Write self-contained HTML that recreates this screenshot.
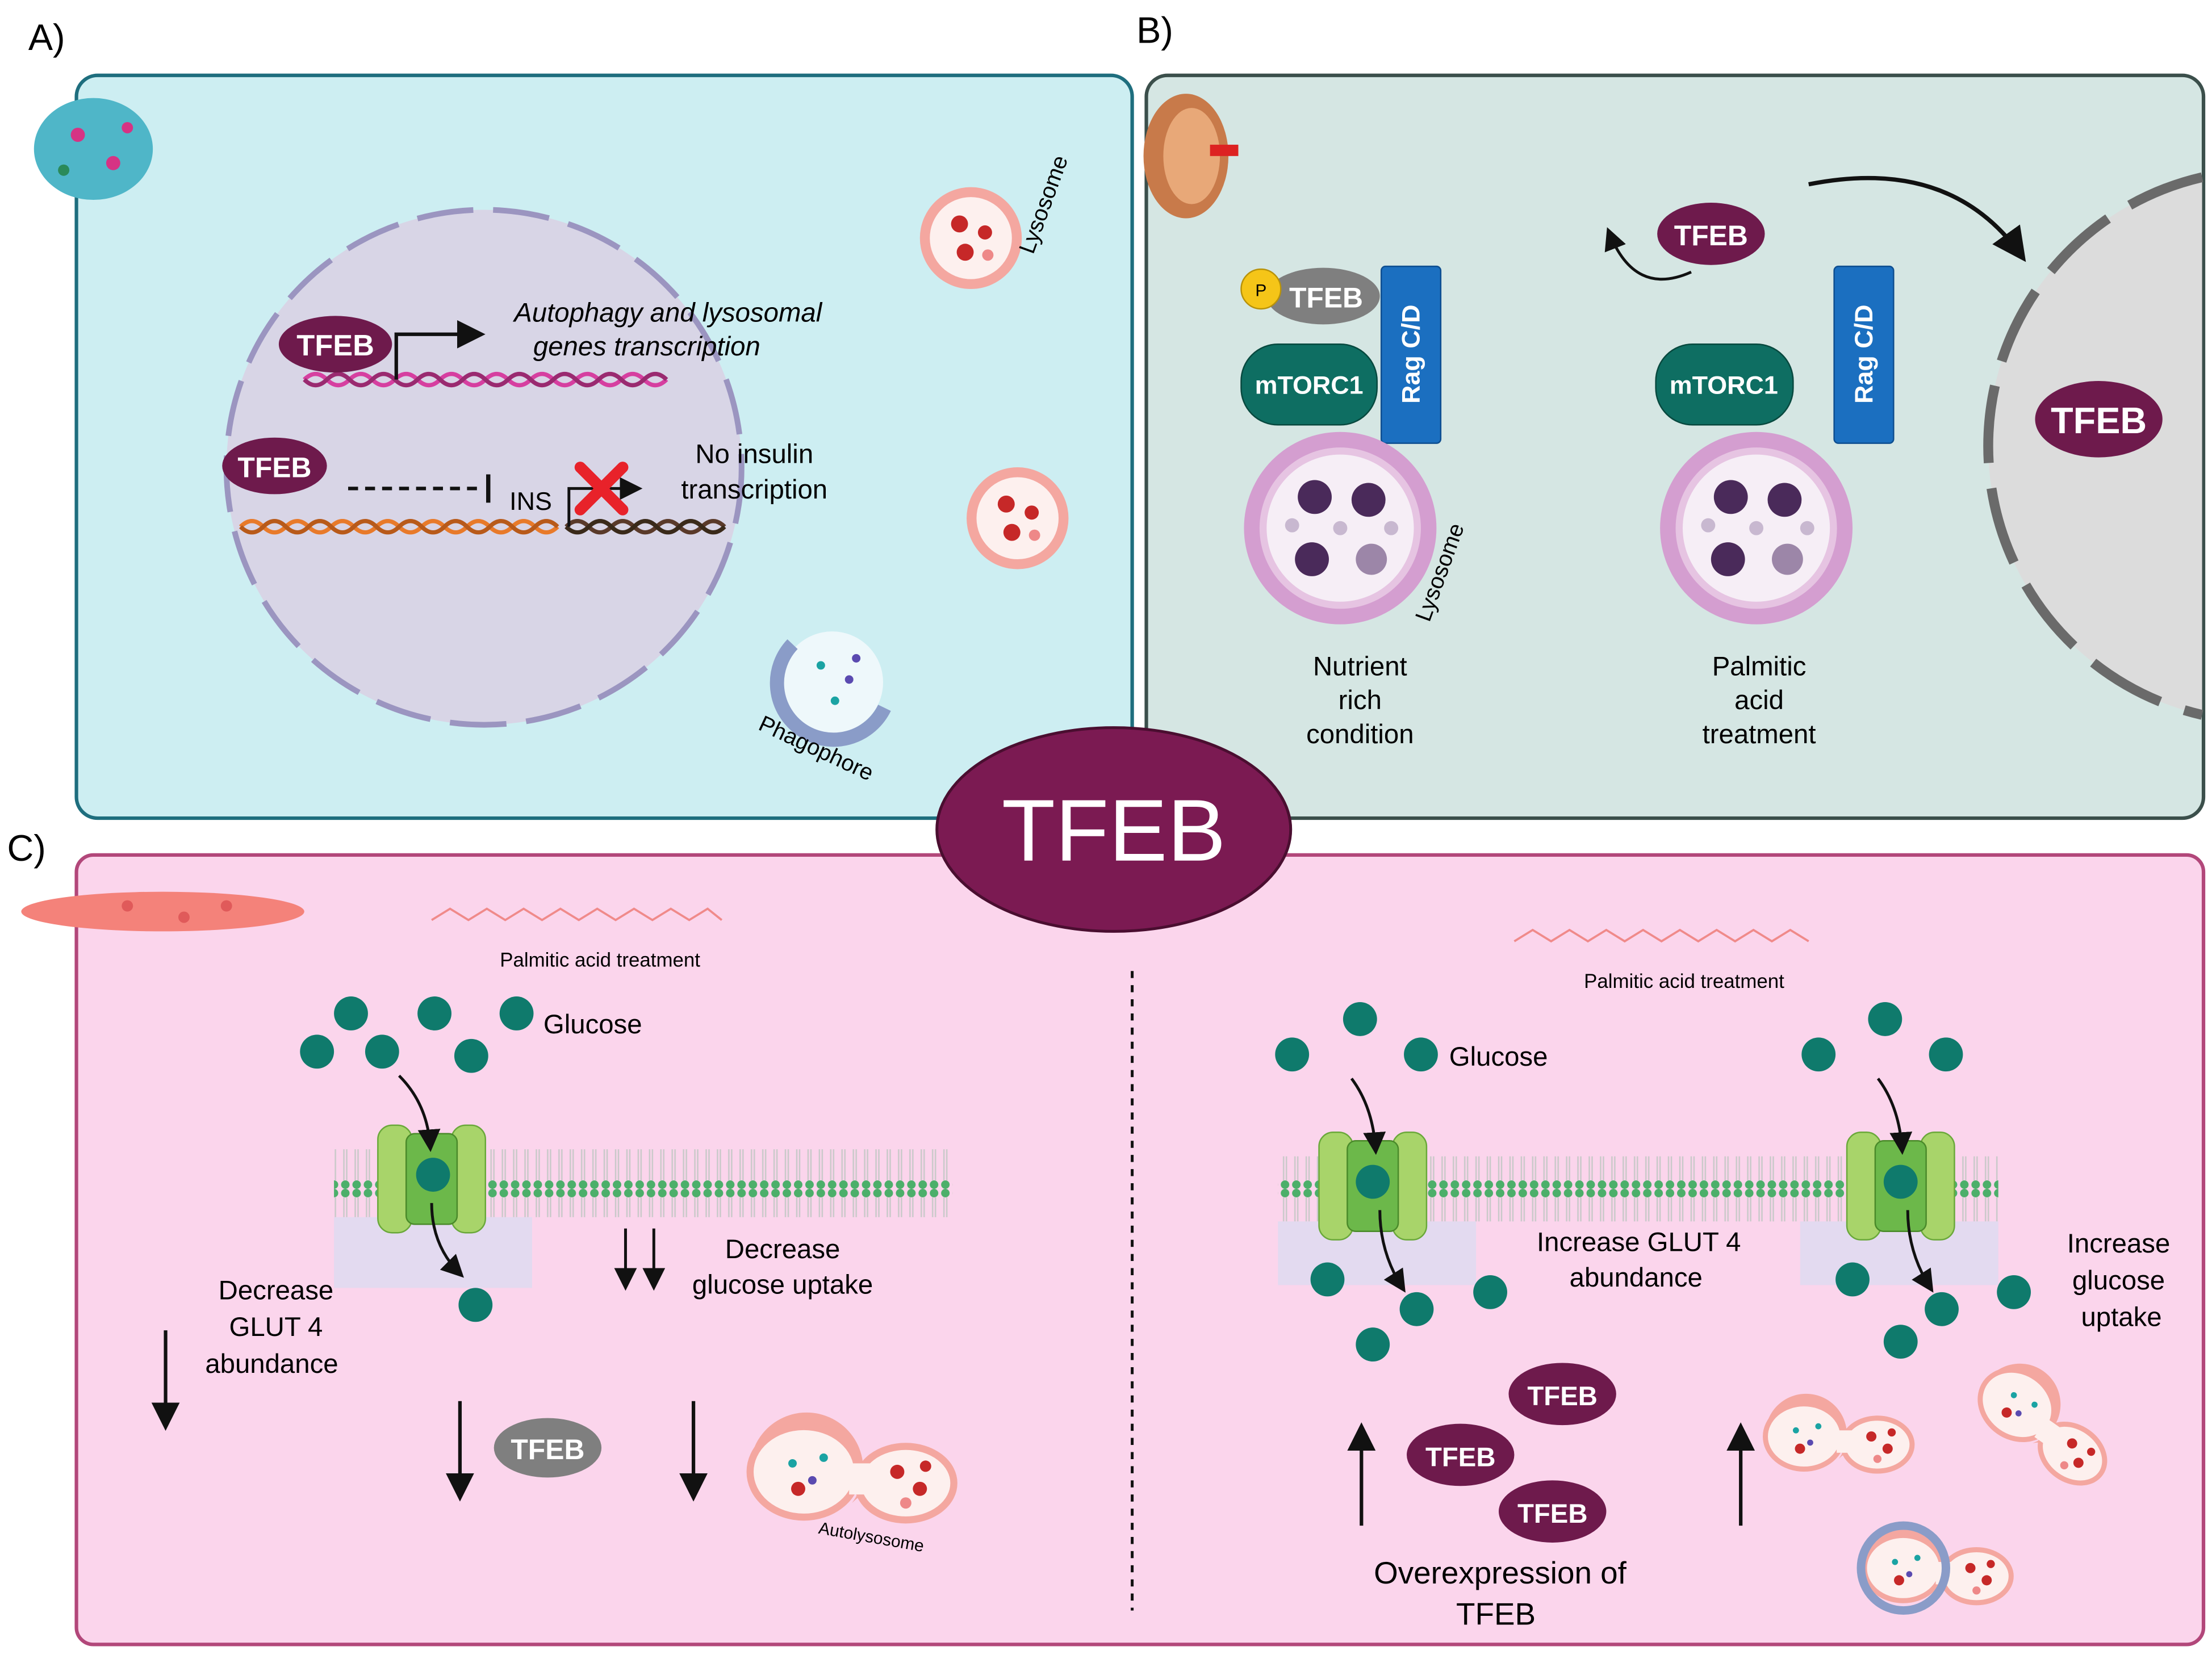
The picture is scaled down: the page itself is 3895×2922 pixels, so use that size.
<!DOCTYPE html>
<html><head><meta charset="utf-8"><style>
html,body{margin:0;padding:0;background:#fff}
svg{display:block}
text{font-family:"Liberation Sans",sans-serif}
</style></head><body>
<svg width="3895" height="2922" viewBox="0 0 1563 1172" xmlns="http://www.w3.org/2000/svg">
<defs>
<marker id="ah" markerWidth="8" markerHeight="8" refX="6" refY="4" orient="auto"><path d="M0,0 L8,4 L0,8 z" fill="#111"/></marker>
<pattern id="mem" width="8" height="42" patternUnits="userSpaceOnUse">
<circle cx="4" cy="3" r="3" fill="#4caf6a"/><circle cx="4" cy="39" r="3" fill="#4caf6a"/>
<line x1="3" y1="6" x2="3" y2="36" stroke="#c9c9c9" stroke-width="1"/><line x1="5" y1="6" x2="5" y2="36" stroke="#c9c9c9" stroke-width="1"/>
</pattern>
<g id="glut">
<rect x="-38" y="-38" width="24" height="76" rx="10" fill="#a8d46a" stroke="#6aa83a"/>
<rect x="14" y="-38" width="24" height="76" rx="10" fill="#a8d46a" stroke="#6aa83a"/>
<rect x="-18" y="-32" width="36" height="64" rx="6" fill="#6cb84a" stroke="#4a8a2a"/>
</g>
<g id="lyso">
<circle r="36" fill="#f4a7a0"/><circle r="29" fill="#fdf0ee"/>
<circle cx="-8" cy="-10" r="6" fill="#c62828"/><circle cx="10" cy="-4" r="5" fill="#c62828"/><circle cx="-4" cy="10" r="6" fill="#c62828"/><circle cx="12" cy="12" r="4" fill="#e88"/>
</g>
<g id="blys">
<circle r="68" fill="#d49ed0"/><circle r="57" fill="#e6c4e2"/><circle r="52" fill="#f6eef6"/>
<circle cx="-18" cy="-22" r="12" fill="#4a2a5a"/><circle cx="20" cy="-20" r="12" fill="#4a2a5a"/><circle cx="-20" cy="22" r="12" fill="#4a2a5a"/><circle cx="22" cy="22" r="11" fill="#9c86a8"/><circle cx="0" cy="0" r="5" fill="#c8b8d0"/><circle cx="-34" cy="-2" r="5" fill="#c8b8d0"/><circle cx="36" cy="0" r="5" fill="#c8b8d0"/>
</g>
<g id="auto">
<path d="M-80,0 a40,40 0 1,1 72,22 q12,-12 30,-14 a32,32 0 1,1 0,0 z" fill="#f4a7a0"/>
<ellipse cx="-42" cy="0" rx="38" ry="32" fill="#fdf0ee" stroke="#f4a7a0" stroke-width="5"/>
<ellipse cx="30" cy="8" rx="34" ry="26" fill="#fdf0ee" stroke="#f4a7a0" stroke-width="5"/>
<rect x="-10" y="-6" width="20" height="22" fill="#fdf0ee"/>
<circle cx="-50" cy="-6" r="3" fill="#1aa3a3"/><circle cx="-36" cy="6" r="3" fill="#5a4ab0"/><circle cx="-28" cy="-10" r="3" fill="#1aa3a3"/><circle cx="-46" cy="12" r="5" fill="#c62828"/>
<circle cx="24" cy="0" r="5" fill="#c62828"/><circle cx="40" cy="12" r="5" fill="#c62828"/><circle cx="30" cy="22" r="4" fill="#e88"/><circle cx="44" cy="-4" r="4" fill="#c62828"/>
</g>
</defs>
<rect width="1563" height="1172" fill="#fff"/>
<!-- Panels -->
<rect x="54" y="53" width="746" height="525" rx="15" fill="#cdeef2" stroke="#1e6e7e" stroke-width="2.5"/>
<rect x="810" y="53" width="747" height="525" rx="15" fill="#d5e6e3" stroke="#3b4f4b" stroke-width="2.5"/>
<rect x="54" y="604" width="1503" height="558" rx="12" fill="#fbd5ec" stroke="#b2477a" stroke-width="2.5"/>
<text x="20" y="35" font-size="26">A)</text>
<text x="803" y="30" font-size="26">B)</text>
<text x="5" y="608" font-size="26">C)</text>

<!-- Panel A -->
<ellipse cx="66" cy="105" rx="42" ry="36" fill="#4fb6c8"/>
<circle cx="55" cy="95" r="5" fill="#d63384"/><circle cx="80" cy="115" r="5" fill="#d63384"/><circle cx="45" cy="120" r="4" fill="#2a8a5a"/><circle cx="90" cy="90" r="4" fill="#d63384"/>
<circle cx="342" cy="330" r="182" fill="#d8d5e6" stroke="#9b95c0" stroke-width="4" stroke-dasharray="40 14"/>
<path d="M215,268 q8,-8 16,0 t16,0 t16,0 t16,0 t16,0 t16,0 t16,0 t16,0 t16,0 t16,0 t16,0 t16,0 t16,0 t16,0 t16,0 t16,0" fill="none" stroke="#d63fa0" stroke-width="3"/>
<path d="M215,268 q8,8 16,0 t16,0 t16,0 t16,0 t16,0 t16,0 t16,0 t16,0 t16,0 t16,0 t16,0 t16,0 t16,0 t16,0 t16,0 t16,0" fill="none" stroke="#9a2a70" stroke-width="3"/>
<ellipse cx="237" cy="243" rx="40" ry="20" fill="#6e1a4c"/><text x="237" y="251" font-size="21" fill="#fff" text-anchor="middle" font-weight="bold">TFEB</text>
<path d="M280,268 V236 H338" fill="none" stroke="#111" stroke-width="2.5" marker-end="url(#ah)"/>
<text x="472" y="227" font-size="19" font-style="italic" text-anchor="middle">Autophagy and lysosomal</text>
<text x="457" y="251" font-size="19" font-style="italic" text-anchor="middle">genes transcription</text>
<ellipse cx="194" cy="329" rx="37" ry="20" fill="#6e1a4c"/><text x="194" y="337" font-size="20" fill="#fff" text-anchor="middle" font-weight="bold">TFEB</text>
<line x1="246" y1="345" x2="338" y2="345" stroke="#111" stroke-width="2.5" stroke-dasharray="7 5"/>
<line x1="345" y1="335" x2="345" y2="355" stroke="#111" stroke-width="3"/>
<text x="360" y="360" font-size="18">INS</text>
<path d="M170,372 q8,-8 16,0 t16,0 t16,0 t16,0 t16,0 t16,0 t16,0 t16,0 t16,0 t16,0 t16,0 t16,0 t16,0 t16,0" fill="none" stroke="#e87a2a" stroke-width="3"/>
<path d="M170,372 q8,8 16,0 t16,0 t16,0 t16,0 t16,0 t16,0 t16,0 t16,0 t16,0 t16,0 t16,0 t16,0 t16,0 t16,0" fill="none" stroke="#b85a1a" stroke-width="3"/>
<path d="M400,372 q8,-8 16,0 t16,0 t16,0 t16,0 t16,0 t16,0 t16,0" fill="none" stroke="#5a3a2a" stroke-width="3"/>
<path d="M400,372 q8,8 16,0 t16,0 t16,0 t16,0 t16,0 t16,0 t16,0" fill="none" stroke="#3a2a1a" stroke-width="3"/>
<path d="M402,372 V345 H450" fill="none" stroke="#111" stroke-width="2" marker-end="url(#ah)"/>
<path d="M410,330 L440,360 M440,330 L410,360" stroke="#e8222a" stroke-width="8" stroke-linecap="round"/>
<text x="533" y="327" font-size="19" text-anchor="middle">No insulin</text>
<text x="533" y="352" font-size="19" text-anchor="middle">transcription</text>
<use href="#lyso" x="686" y="168"/>
<text x="730" y="180" font-size="16" transform="rotate(-70 730 180)">Lysosome</text>
<use href="#lyso" x="719" y="366"/>
<circle cx="588" cy="482" r="36" fill="#eef8fb"/>
<path d="M560,455 a40,40 0 1,0 65,45" fill="none" stroke="#8a9cc8" stroke-width="10"/>
<circle cx="580" cy="470" r="3" fill="#1aa3a3"/><circle cx="600" cy="480" r="3" fill="#5a4ab0"/><circle cx="590" cy="495" r="3" fill="#1aa3a3"/><circle cx="605" cy="465" r="3" fill="#5a4ab0"/>
<text x="535" y="515" font-size="16" transform="rotate(25 535 515)">Phagophore</text>

<!-- Panel B -->
<ellipse cx="838" cy="110" rx="30" ry="44" fill="#c87a4a"/><ellipse cx="842" cy="110" rx="20" ry="34" fill="#e8a878"/><rect x="855" y="102" width="20" height="8" fill="#d22"/>
<ellipse cx="935" cy="209" rx="40" ry="20" fill="#7f7f7f"/><text x="937" y="217" font-size="20" fill="#fff" text-anchor="middle" font-weight="bold">TFEB</text>
<circle cx="891" cy="204" r="14" fill="#f5c518" stroke="#b8920a"/><text x="891" y="209" font-size="12" text-anchor="middle">P</text>
<rect x="877" y="243" width="96" height="57" rx="26" fill="#0e6e62" stroke="#08493f"/><text x="925" y="278" font-size="18" fill="#fff" text-anchor="middle" font-weight="bold">mTORC1</text>
<rect x="976" y="188" width="42" height="125" rx="3" fill="#1b6fc0" stroke="#0e4e90"/><text x="1003" y="250" font-size="18" fill="#fff" text-anchor="middle" font-weight="bold" transform="rotate(-90 1003 250)">Rag C/D</text>
<use href="#blys" x="947" y="373"/>
<text x="1010" y="440" font-size="16" transform="rotate(-70 1010 440)">Lysosome</text>
<text x="961" y="477" font-size="19" text-anchor="middle">Nutrient</text><text x="961" y="501" font-size="19" text-anchor="middle">rich</text><text x="961" y="525" font-size="19" text-anchor="middle">condition</text>
<rect x="1170" y="243" width="97" height="57" rx="26" fill="#0e6e62" stroke="#08493f"/><text x="1218" y="278" font-size="18" fill="#fff" text-anchor="middle" font-weight="bold">mTORC1</text>
<rect x="1296" y="188" width="42" height="125" rx="3" fill="#1b6fc0" stroke="#0e4e90"/><text x="1323" y="250" font-size="18" fill="#fff" text-anchor="middle" font-weight="bold" transform="rotate(-90 1323 250)">Rag C/D</text>
<use href="#blys" x="1241" y="373"/>
<text x="1243" y="477" font-size="19" text-anchor="middle">Palmitic</text><text x="1243" y="501" font-size="19" text-anchor="middle">acid</text><text x="1243" y="525" font-size="19" text-anchor="middle">treatment</text>
<ellipse cx="1209" cy="165" rx="38" ry="22" fill="#6e1a4c"/><text x="1209" y="173" font-size="20" fill="#fff" text-anchor="middle" font-weight="bold">TFEB</text>
<path d="M1195,192 q-40,18 -58,-28" fill="none" stroke="#111" stroke-width="2" marker-end="url(#ah)"/>
<path d="M1278,130 q100,-20 150,50" fill="none" stroke="#111" stroke-width="3" marker-end="url(#ah)"/>
<path d="M1556,125 A195,195 0 0,0 1556,505 Z" fill="#dcdcdc"/>
<path d="M1556,125 A195,195 0 0,0 1556,505" fill="none" stroke="#6a6a6a" stroke-width="7" stroke-dasharray="55 18"/>
<ellipse cx="1483" cy="296" rx="45" ry="27" fill="#6e1a4c"/><text x="1483" y="306" font-size="26" fill="#fff" text-anchor="middle" font-weight="bold">TFEB</text>

<!-- Panel C left -->
<ellipse cx="115" cy="644" rx="100" ry="14" fill="#f4827a"/>
<circle cx="90" cy="640" r="4" fill="#e05a5a"/><circle cx="130" cy="648" r="4" fill="#e05a5a"/><circle cx="160" cy="640" r="4" fill="#e05a5a"/>
<polyline points="305,650 318,642 331,650 344,642 357,650 370,642 383,650 396,642 409,650 422,642 435,650 448,642 461,650 474,642 487,650 500,642 510,650" fill="none" stroke="#f08a8a" stroke-width="1.5"/>
<text x="424" y="683" font-size="14" text-anchor="middle">Palmitic acid treatment</text>
<g fill="#0f7a6c"><circle cx="248" cy="716" r="12"/><circle cx="307" cy="716" r="12"/><circle cx="365" cy="716" r="12"/><circle cx="224" cy="743" r="12"/><circle cx="270" cy="743" r="12"/><circle cx="333" cy="746" r="12"/></g>
<text x="384" y="730" font-size="19">Glucose</text>
<rect x="236" y="812" width="437" height="48" fill="url(#mem)"/>
<rect x="236" y="860" width="140" height="50" fill="#d8dcf2" opacity="0.7"/>
<use href="#glut" x="305" y="833"/>
<circle cx="306" cy="830" r="12" fill="#0f7a6c"/>
<path d="M282,760 q20,20 22,50" fill="none" stroke="#111" stroke-width="2" marker-end="url(#ah)"/>
<path d="M305,850 q0,30 20,50" fill="none" stroke="#111" stroke-width="2" marker-end="url(#ah)"/>
<circle cx="336" cy="922" r="12" fill="#0f7a6c"/>
<text x="195" y="918" font-size="19" text-anchor="middle">Decrease</text><text x="195" y="944" font-size="19" text-anchor="middle">GLUT 4</text><text x="192" y="970" font-size="19" text-anchor="middle">abundance</text>
<line x1="117" y1="940" x2="117" y2="1006" stroke="#111" stroke-width="2.5" marker-end="url(#ah)"/>
<line x1="442" y1="868" x2="442" y2="908" stroke="#111" stroke-width="2" marker-end="url(#ah)"/>
<line x1="462" y1="868" x2="462" y2="908" stroke="#111" stroke-width="2" marker-end="url(#ah)"/>
<text x="553" y="889" font-size="19" text-anchor="middle">Decrease</text><text x="553" y="914" font-size="19" text-anchor="middle">glucose uptake</text>
<line x1="325" y1="990" x2="325" y2="1056" stroke="#111" stroke-width="2.5" marker-end="url(#ah)"/>
<ellipse cx="387" cy="1023" rx="38" ry="21" fill="#7f7f7f"/><text x="387" y="1031" font-size="20" fill="#fff" text-anchor="middle" font-weight="bold">TFEB</text>
<line x1="490" y1="990" x2="490" y2="1056" stroke="#111" stroke-width="2.5" marker-end="url(#ah)"/>
<use href="#auto" x="610" y="1040"/>
<text x="615" y="1090" font-size="12" text-anchor="middle" transform="rotate(10 615 1090)">Autolysosome</text>
<line x1="800" y1="686" x2="800" y2="1138" stroke="#111" stroke-width="2" stroke-dasharray="5 5"/>

<!-- Panel C right -->
<polyline points="1070,665 1083,657 1096,665 1109,657 1122,665 1135,657 1148,665 1161,657 1174,665 1187,657 1200,665 1213,657 1226,665 1239,657 1252,665 1265,657 1278,665" fill="none" stroke="#f08a8a" stroke-width="1.5"/>
<text x="1190" y="698" font-size="14" text-anchor="middle">Palmitic acid treatment</text>
<g fill="#0f7a6c"><circle cx="961" cy="720" r="12"/><circle cx="913" cy="745" r="12"/><circle cx="1004" cy="745" r="12"/><circle cx="1332" cy="720" r="12"/><circle cx="1285" cy="745" r="12"/><circle cx="1375" cy="745" r="12"/></g>
<text x="1024" y="753" font-size="19">Glucose</text>
<rect x="903" y="817" width="509" height="46" fill="url(#mem)"/>
<rect x="903" y="863" width="140" height="45" fill="#d8dcf2" opacity="0.7"/>
<rect x="1272" y="863" width="140" height="45" fill="#d8dcf2" opacity="0.7"/>
<use href="#glut" x="970" y="838"/><use href="#glut" x="1343" y="838"/>
<circle cx="970" cy="835" r="12" fill="#0f7a6c"/><circle cx="1343" cy="835" r="12" fill="#0f7a6c"/>
<path d="M955,762 q15,20 17,50" fill="none" stroke="#111" stroke-width="2" marker-end="url(#ah)"/>
<path d="M975,855 q0,30 16,55" fill="none" stroke="#111" stroke-width="2" marker-end="url(#ah)"/>
<path d="M1327,762 q15,20 17,50" fill="none" stroke="#111" stroke-width="2" marker-end="url(#ah)"/>
<path d="M1348,855 q0,30 16,55" fill="none" stroke="#111" stroke-width="2" marker-end="url(#ah)"/>
<g fill="#0f7a6c"><circle cx="938" cy="904" r="12"/><circle cx="1001" cy="925" r="12"/><circle cx="970" cy="950" r="12"/><circle cx="1053" cy="913" r="12"/><circle cx="1309" cy="904" r="12"/><circle cx="1372" cy="925" r="12"/><circle cx="1343" cy="948" r="12"/><circle cx="1423" cy="913" r="12"/></g>
<text x="1158" y="884" font-size="19" text-anchor="middle">Increase  GLUT 4</text><text x="1156" y="909" font-size="19" text-anchor="middle">abundance</text>
<text x="1497" y="885" font-size="19" text-anchor="middle">Increase</text><text x="1497" y="911" font-size="19" text-anchor="middle">glucose</text><text x="1499" y="937" font-size="19" text-anchor="middle">uptake</text>
<ellipse cx="1104" cy="985" rx="38" ry="22" fill="#6e1a4c"/><text x="1104" y="993" font-size="19" fill="#fff" text-anchor="middle" font-weight="bold">TFEB</text>
<ellipse cx="1032" cy="1028" rx="38" ry="22" fill="#6e1a4c"/><text x="1032" y="1036" font-size="19" fill="#fff" text-anchor="middle" font-weight="bold">TFEB</text>
<ellipse cx="1097" cy="1068" rx="38" ry="22" fill="#6e1a4c"/><text x="1097" y="1076" font-size="19" fill="#fff" text-anchor="middle" font-weight="bold">TFEB</text>
<line x1="962" y1="1078" x2="962" y2="1010" stroke="#111" stroke-width="2.5" marker-end="url(#ah)"/>
<text x="1060" y="1119" font-size="22" text-anchor="middle">Overexpression of</text><text x="1057" y="1148" font-size="22" text-anchor="middle">TFEB</text>
<line x1="1230" y1="1078" x2="1230" y2="1010" stroke="#111" stroke-width="2.5" marker-end="url(#ah)"/>
<use href="#auto" transform="translate(1305,1015) scale(0.72)"/>
<use href="#auto" transform="translate(1450,1010) scale(0.72) rotate(35)"/>
<use href="#auto" transform="translate(1375,1108) scale(0.72)"/>
<circle cx="1345" cy="1108" r="30" fill="none" stroke="#8a9cc8" stroke-width="6"/>

<!-- Center TFEB -->
<ellipse cx="787" cy="586" rx="125" ry="72" fill="#7b1a52" stroke="#4a0e30" stroke-width="2"/>
<text x="787" y="608" font-size="62" fill="#fff" text-anchor="middle">TFEB</text>
</svg>
</body></html>
